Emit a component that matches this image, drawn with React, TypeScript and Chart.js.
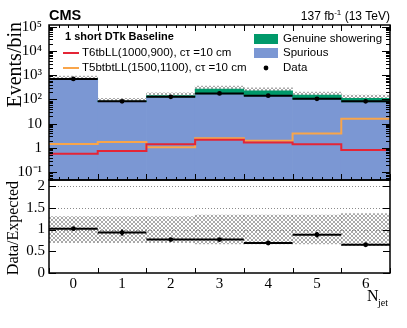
import React, { useEffect, useRef } from "react";
import { Chart, registerables } from "chart.js";
Chart.register(...registerables);

// ---- data ----
const nJetBins = [0, 1, 2, 3, 4, 5, 6];
const spurious = [690, 82, 125, 170, 140, 102, 80];
const genuine = [15, 3, 20, 100, 85, 50, 30];
const dataCounts = [705, 84, 128, 178, 143, 106, 84];
const dataErr = [27, 9, 11, 13, 12, 10, 9];
const t6tbLL = [0.58, 0.75, 1.42, 2.2, 1.7, 1.42, 0.83];
const t5btbtLL = [1.46, 1.76, 1.07, 2.5, 2.0, 4.0, 16];
const relUnc = [0.3, 0.3, 0.3, 0.33, 0.33, 0.33, 0.37];
const ratio = [1.02, 0.93, 0.77, 0.77, 0.69, 0.88, 0.65];
const ratioErr = [0.03, 0.07, 0.03, 0.03, 0.03, 0.06, 0.03];
const yDecades = [0.1, 1, 10, 100, 1000, 10000, 100000];
const yDecadeLabels = ["10⁻¹", "1", "10", "10²", "10³", "10⁴", "10⁵"];
const ratioTicks = [0, 0.5, 1, 1.5, 2];
const ratioTickLabels = ["0", "0.5", "1", "1.5", "2"];
const xTickLabels = ["0", "1", "2", "3", "4", "5", "6"];

const BLUE = "#7b97d3";
const GREEN = "#00996a";
const RED = "#e42536";
const ORANGE = "#f9a54a";
const SERIF = "'Liberation Serif', 'Times New Roman', serif";
const SANS = "'Liberation Sans', Arial, sans-serif";

function makeHatch(ctx: CanvasRenderingContext2D) {
  const c = document.createElement("canvas");
  c.width = 4;
  c.height = 4;
  const g = c.getContext("2d")!;
  g.strokeStyle = "rgba(120,120,120,0.9)";
  g.lineWidth = 0.7;
  g.beginPath();
  g.moveTo(0, 0);
  g.lineTo(4, 4);
  g.moveTo(4, 0);
  g.lineTo(0, 4);
  g.stroke();
  return ctx.createPattern(c, "repeat") as CanvasPattern;
}

function seg(ctx: CanvasRenderingContext2D, x1: number, y1: number, x2: number, y2: number) {
  ctx.beginPath();
  ctx.moveTo(x1, y1);
  ctx.lineTo(x2, y2);
  ctx.stroke();
}

function stepData(vals: number[]) {
  const pts = vals.map((v, i) => ({ x: nJetBins[i] - 0.5, y: v }));
  pts.push({ x: nJetBins[nJetBins.length - 1] + 0.5, y: vals[vals.length - 1] });
  return pts;
}

const topDecor = {
  id: "topDecor",
  afterDatasetsDraw(chart: any) {
    const { ctx, scales } = chart;
    const x = scales.x, y = scales.y;
    ctx.save();
    ctx.strokeStyle = "#000";
    ctx.lineWidth = 2;
    nJetBins.forEach((b, i) => {
      const py = y.getPixelForValue(dataCounts[i]);
      seg(ctx, x.getPixelForValue(b - 0.5), py, x.getPixelForValue(b + 0.5), py);
      seg(ctx, x.getPixelForValue(b), y.getPixelForValue(dataCounts[i] - dataErr[i]), x.getPixelForValue(b), y.getPixelForValue(dataCounts[i] + dataErr[i]));
    });
    ctx.restore();
  },
  afterDraw(chart: any) {
    const { ctx, chartArea: a, scales } = chart;
    const x = scales.x, y = scales.y;
    ctx.save();
    ctx.strokeStyle = "#000";
    ctx.lineWidth = 1;
    for (let k = 0; k <= 35; k++) {
      const v = -0.5 + 0.2 * k;
      const px = Math.round(x.getPixelForValue(v)) + 0.5;
      const L = k % 5 === 0 ? 6 : 3;
      seg(ctx, px, a.bottom, px, a.bottom - L);
      seg(ctx, px, a.top, px, a.top + L);
    }
    for (let e = -2; e <= 5; e++) {
      for (let m = 1; m <= 9; m++) {
        const v = m * Math.pow(10, e);
        if (v < y.min || v > y.max) continue;
        const py = Math.round(y.getPixelForValue(v)) + 0.5;
        const L = m === 1 ? 8 : 4;
        seg(ctx, a.left, py, a.left + L, py);
        seg(ctx, a.right, py, a.right - L, py);
      }
    }
    ctx.lineWidth = 1.5;
    ctx.strokeRect(a.left, a.top, a.right - a.left, a.bottom - a.top);

    // CMS + lumi
    ctx.fillStyle = "#000";
    ctx.textBaseline = "alphabetic";
    ctx.textAlign = "left";
    ctx.font = "bold 14.5px " + SANS;
    ctx.fillText("CMS", 49, 20);
    ctx.font = "12px " + SANS;
    const p1 = "137 fb", p3 = " (13 TeV)";
    const w1 = ctx.measureText(p1).width;
    const w3 = ctx.measureText(p3).width;
    ctx.font = "8px " + SANS;
    const w2 = ctx.measureText("-1").width;
    let sx = a.right - (w1 + w2 + w3);
    ctx.font = "12px " + SANS;
    ctx.fillText(p1, sx, 20);
    ctx.font = "8px " + SANS;
    ctx.fillText("-1", sx + w1, 15);
    ctx.font = "12px " + SANS;
    ctx.fillText(p3, sx + w1 + w2, 20);

    // legend
    ctx.textBaseline = "middle";
    ctx.font = "bold 11px " + SANS;
    ctx.fillText("1 short DTk Baseline", 65, 37);
    ctx.font = "11.5px " + SANS;
    ctx.lineWidth = 2;
    ctx.strokeStyle = RED;
    seg(ctx, 63, 53, 79, 53);
    ctx.fillText("T6tbLL(1000,900), cτ =10 cm", 82, 53);
    ctx.strokeStyle = ORANGE;
    seg(ctx, 63, 68, 79, 68);
    ctx.fillText("T5btbtLL(1500,1100), cτ =10 cm", 82, 68);
    ctx.fillStyle = GREEN;
    ctx.fillRect(254, 34, 24, 10);
    ctx.fillStyle = BLUE;
    ctx.fillRect(254, 48, 24, 10);
    ctx.fillStyle = "#000";
    ctx.beginPath();
    ctx.arc(266, 68, 2.4, 0, Math.PI * 2);
    ctx.fill();
    ctx.fillText("Genuine showering", 283, 39);
    ctx.fillText("Spurious", 283, 53);
    ctx.fillText("Data", 283, 68);

    // y title
    ctx.translate(16, 22);
    ctx.rotate(-Math.PI / 2);
    ctx.textAlign = "right";
    ctx.textBaseline = "middle";
    ctx.font = "20px " + SERIF;
    ctx.fillText("Events/bin", 0, 0);
    ctx.restore();
  },
};

const botDecor = {
  id: "botDecor",
  beforeDatasetsDraw(chart: any) {
    const { ctx, chartArea: a, scales } = chart;
    const y = scales.y;
    ctx.save();
    ctx.strokeStyle = "#8a8a8a";
    ctx.lineWidth = 1;
    ctx.setLineDash([1, 2]);
    [1, 1.5, 2].forEach((v) => {
      const py = Math.round(y.getPixelForValue(v)) + 0.5;
      seg(ctx, a.left, py, a.right, py);
    });
    ctx.restore();
  },
  afterDatasetsDraw(chart: any) {
    const { ctx, scales } = chart;
    const x = scales.x, y = scales.y;
    ctx.save();
    ctx.strokeStyle = "#000";
    ctx.lineWidth = 2;
    nJetBins.forEach((b, i) => {
      const py = y.getPixelForValue(ratio[i]);
      seg(ctx, x.getPixelForValue(b - 0.5), py, x.getPixelForValue(b + 0.5), py);
      seg(ctx, x.getPixelForValue(b), y.getPixelForValue(ratio[i] - ratioErr[i]), x.getPixelForValue(b), y.getPixelForValue(ratio[i] + ratioErr[i]));
    });
    ctx.restore();
  },
  afterDraw(chart: any) {
    const { ctx, chartArea: a, scales } = chart;
    const x = scales.x, y = scales.y;
    ctx.save();
    ctx.strokeStyle = "#000";
    ctx.lineWidth = 1;
    for (let k = 0; k <= 7; k++) {
      const px = Math.round(x.getPixelForValue(-0.5 + k)) + 0.5;
      seg(ctx, px, a.bottom, px, a.bottom - 5);
    }
    ratioTicks.forEach((v) => {
      const py = Math.round(y.getPixelForValue(v)) + 0.5;
      seg(ctx, a.left, py, a.left + 7, py);
      seg(ctx, a.right, py, a.right - 7, py);
    });
    ctx.lineWidth = 1.5;
    ctx.strokeRect(a.left, a.top, a.right - a.left, a.bottom - a.top);

    ctx.fillStyle = "#000";
    ctx.textAlign = "left";
    ctx.textBaseline = "alphabetic";
    ctx.font = "16px " + SERIF;
    ctx.fillText("N", 367, 301);
    ctx.font = "10px " + SERIF;
    ctx.fillText("jet", 378, 306);

    ctx.translate(14, 181);
    ctx.rotate(-Math.PI / 2);
    ctx.textAlign = "right";
    ctx.textBaseline = "middle";
    ctx.font = "16px " + SERIF;
    ctx.fillText("Data/Expected", 0, 0);
    ctx.restore();
  },
};

export default function App() {
  const topRef = useRef<HTMLCanvasElement>(null);
  const botRef = useRef<HTMLCanvasElement>(null);

  useEffect(() => {
    const tctx = topRef.current!.getContext("2d")!;
    const bctx = botRef.current!.getContext("2d")!;
    const hatchTop = makeHatch(tctx);
    const hatchBot = makeHatch(bctx);
    const totals = spurious.map((s, i) => s + genuine[i]);

    const barCommon = {
      type: "bar" as const,
      barPercentage: 1,
      categoryPercentage: 1,
      grouped: false,
      borderWidth: 0,
    };

    const top = new Chart(topRef.current!, {
      type: "bar",
      data: {
        datasets: [
          {
            type: "line",
            label: "Data",
            data: nJetBins.map((b, i) => ({ x: b, y: dataCounts[i] })),
            showLine: false,
            pointRadius: 2.4,
            pointBackgroundColor: "#000",
            pointBorderWidth: 0,
            order: 0,
          } as any,
          {
            type: "line",
            label: "T6tbLL(1000,900)",
            data: stepData(t6tbLL),
            stepped: true,
            borderColor: RED,
            borderWidth: 2,
            pointRadius: 0,
            fill: false,
            order: 1,
          } as any,
          {
            type: "line",
            label: "T5btbtLL(1500,1100)",
            data: stepData(t5btbtLL),
            stepped: true,
            borderColor: ORANGE,
            borderWidth: 2,
            pointRadius: 0,
            fill: false,
            order: 2,
          } as any,
          {
            ...barCommon,
            label: "Genuine showering",
            data: nJetBins.map((b, i) => ({ x: b, y: [spurious[i], totals[i]] })),
            backgroundColor: GREEN,
            order: 3,
          } as any,
          {
            ...barCommon,
            label: "Spurious",
            data: nJetBins.map((b, i) => ({ x: b, y: [0.001, spurious[i]] })),
            backgroundColor: BLUE,
            order: 4,
          } as any,
          {
            ...barCommon,
            label: "Unc",
            data: nJetBins.map((b, i) => ({ x: b, y: [totals[i] * (1 - relUnc[i]), totals[i] * (1 + relUnc[i])] })),
            backgroundColor: hatchTop,
            order: 5,
          } as any,
        ],
      },
      options: {
        animation: false,
        responsive: false,
        events: [],
        layout: { padding: { left: 0, right: 17, top: 25, bottom: 148 } },
        plugins: { legend: { display: false }, tooltip: { enabled: false } },
        scales: {
          x: {
            type: "linear",
            min: -0.5,
            max: 6.5,
            offset: false,
            display: false,
          },
          y: {
            type: "logarithmic",
            min: 0.048,
            max: 117000,
            grid: { display: false, drawTicks: false },
            border: { display: false },
            afterBuildTicks: (s: any) => {
              s.ticks = yDecades.map((v) => ({ value: v }));
            },
            afterFit: (s: any) => {
              s.width = 49;
            },
            ticks: {
              padding: 7,
              color: "#000",
              font: { family: SERIF, size: 15 },
              callback: (v: any) => {
                const idx = yDecades.findIndex((d) => Math.abs(d - v) / d < 1e-6);
                return idx >= 0 ? yDecadeLabels[idx] : "";
              },
            },
          },
        },
      } as any,
      plugins: [topDecor],
    });

    const bot = new Chart(botRef.current!, {
      type: "bar",
      data: {
        datasets: [
          {
            type: "line",
            label: "Data/Expected",
            data: nJetBins.map((b, i) => ({ x: b, y: ratio[i] })),
            showLine: false,
            pointRadius: 2.4,
            pointBackgroundColor: "#000",
            pointBorderWidth: 0,
            order: 0,
          } as any,
          {
            ...barCommon,
            label: "Unc",
            data: nJetBins.map((b, i) => ({ x: b, y: [1 - relUnc[i], 1 + relUnc[i]] })),
            backgroundColor: hatchBot,
            order: 1,
          } as any,
        ],
      },
      options: {
        animation: false,
        responsive: false,
        events: [],
        layout: { padding: { left: 0, right: 17, top: 180, bottom: 25 } },
        plugins: { legend: { display: false }, tooltip: { enabled: false } },
        scales: {
          x: {
            type: "linear",
            min: -0.5,
            max: 6.5,
            offset: false,
            grid: { display: false, drawTicks: false },
            border: { display: false },
            afterBuildTicks: (s: any) => {
              s.ticks = nJetBins.map((v) => ({ value: v }));
            },
            afterFit: (s: any) => {
              s.height = 30;
            },
            ticks: {
              padding: 2,
              color: "#000",
              maxRotation: 0,
              autoSkip: false,
              font: { family: SERIF, size: 15 },
              callback: (v: any) => {
                const idx = nJetBins.indexOf(Math.round(v));
                return idx >= 0 ? xTickLabels[idx] : "";
              },
            },
          },
          y: {
            type: "linear",
            min: 0,
            max: 2.14,
            grid: { display: false, drawTicks: false },
            border: { display: false },
            afterBuildTicks: (s: any) => {
              s.ticks = ratioTicks.map((v) => ({ value: v }));
            },
            afterFit: (s: any) => {
              s.width = 49;
            },
            ticks: {
              padding: 4,
              color: "#000",
              font: { family: SERIF, size: 15 },
              callback: (v: any) => {
                const idx = ratioTicks.findIndex((d) => Math.abs(d - v) < 1e-6);
                return idx >= 0 ? ratioTickLabels[idx] : "";
              },
            },
          },
        },
      } as any,
      plugins: [botDecor],
    });

    return () => {
      top.destroy();
      bot.destroy();
    };
  }, []);

  return (
    <div style={{ position: "absolute", left: 0, top: 0, width: 407, height: 328, background: "#fff" }}>
      <canvas ref={topRef} width={407} height={328} style={{ position: "absolute", left: 0, top: 0 }} />
      <canvas ref={botRef} width={407} height={328} style={{ position: "absolute", left: 0, top: 0 }} />
    </div>
  );
}
